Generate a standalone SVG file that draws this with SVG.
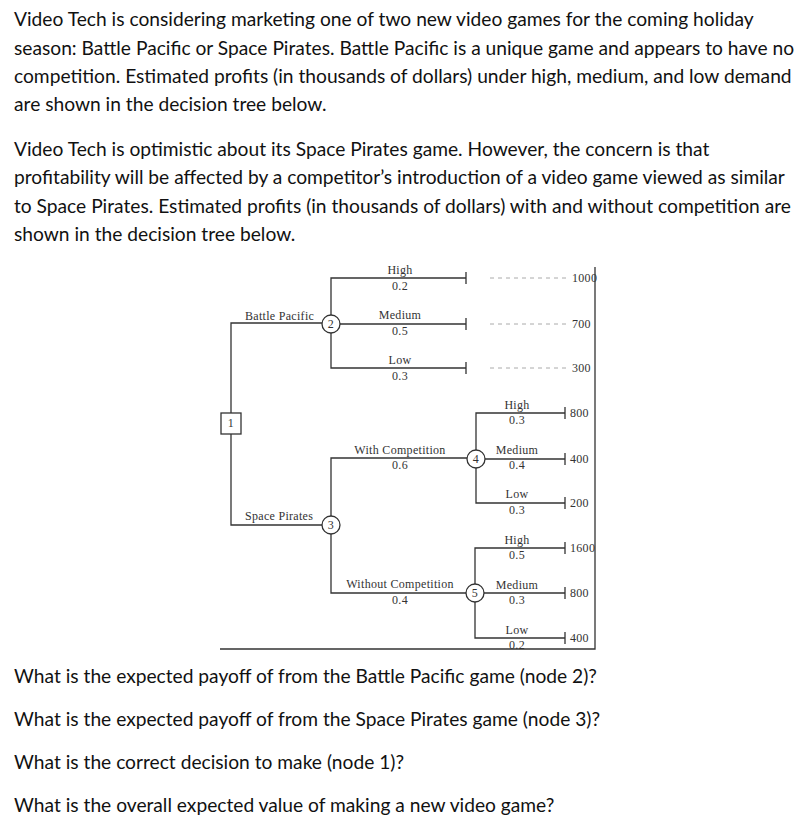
<svg xmlns="http://www.w3.org/2000/svg" width="804" height="829" viewBox="0 0 804 829">
<style>
.p{font-family:Lato,"Open Sans",sans-serif;font-size:19.2px;fill:#111}
.t{font-family:"Liberation Serif","Times New Roman",serif;font-size:12px;letter-spacing:0.3px;fill:#333}
.m{text-anchor:middle}
.ln{stroke:#333;stroke-width:1.3;fill:none}
.ds{stroke:#aaa;stroke-width:1;stroke-dasharray:4,4;fill:none}
.nd{stroke:#333;stroke-width:1.3;fill:#fff}
</style>
<rect width="804" height="829" fill="#fff"/>
<g id="text">
<text class="p" x="14" y="26">Video Tech is considering marketing one of two new video games for the coming holiday</text>
<text class="p" x="14" y="55">season: Battle Pacific or Space Pirates. Battle Pacific is a unique game and appears to have no</text>
<text class="p" x="14" y="83">competition. Estimated profits (in thousands of dollars) under high, medium, and low demand</text>
<text class="p" x="14" y="111">are shown in the decision tree below.</text>
<text class="p" x="14" y="156">Video Tech is optimistic about its Space Pirates game. However, the concern is that</text>
<text class="p" x="14" y="184">profitability will be affected by a competitor’s introduction of a video game viewed as similar</text>
<text class="p" x="14" y="213">to Space Pirates. Estimated profits (in thousands of dollars) with and without competition are</text>
<text class="p" x="14" y="241">shown in the decision tree below.</text>
<text class="p" x="14" y="683">What is the expected payoff of from the Battle Pacific game (node 2)?</text>
<text class="p" x="14" y="726">What is the expected payoff of from the Space Pirates game (node 3)?</text>
<text class="p" x="14" y="769">What is the correct decision to make (node 1)?</text>
<text class="p" x="14" y="812">What is the overall expected value of making a new video game?</text>
</g>
<g id="connectors">
<path class="ln" d="M231,413 V323 H322 M231,434 V525 H322"/>
<path class="ln" d="M331,315 V278 H466 M340,324 H466 M331,333 V368 H466"/>
<path class="ln" d="M466,272 V284 M466,318 V330 M466,362 V374"/>
<path class="ds" d="M490,278 H566 M490,324 H566 M490,368 H566"/>
<path class="ln" d="M331,516 V458 H467 M331,534 V593 H466"/>
<path class="ln" d="M476,450 V413 H565 M485,459 H565 M476,468 V503 H565"/>
<path class="ln" d="M475,584 V548 H565 M484,593 H565 M475,602 V638 H565"/>
<path class="ln" d="M565,407 V419 M565,453 V465 M565,497 V509 M565,542 V554 M565,587 V599 M565,632 V644"/>
<path class="ln" d="M220,649 H595 V267"/>
</g>
<g id="n1"><rect class="nd" x="221" y="413" width="20" height="21"/><text class="t m" x="231" y="427">1</text></g>
<g id="n2"><circle class="nd" cx="331" cy="324" r="9"/><text class="t m" x="331" y="328">2</text></g>
<g id="n3"><circle class="nd" cx="331" cy="525" r="9"/><text class="t m" x="331" y="529">3</text></g>
<g id="n4"><circle class="nd" cx="476" cy="459" r="9"/><text class="t m" x="476" y="463">4</text></g>
<g id="n5"><circle class="nd" cx="475" cy="593" r="9"/><text class="t m" x="475" y="597">5</text></g>
<g id="labels">
<text class="t" x="245" y="320">Battle Pacific</text>
<text class="t" x="245" y="520">Space Pirates</text>
<text class="t m" x="400" y="274">High</text><text class="t m" x="400" y="290">0.2</text>
<text class="t m" x="400" y="319">Medium</text><text class="t m" x="400" y="335">0.5</text>
<text class="t m" x="400" y="364">Low</text><text class="t m" x="400" y="380">0.3</text>
<text class="t" x="572" y="282">1000</text>
<text class="t" x="572" y="328">700</text>
<text class="t" x="572" y="372">300</text>
<text class="t m" x="400" y="454">With Competition</text><text class="t m" x="400" y="469">0.6</text>
<text class="t m" x="400" y="588">Without Competition</text><text class="t m" x="400" y="604">0.4</text>
<text class="t m" x="517" y="409">High</text><text class="t m" x="517" y="424">0.3</text>
<text class="t m" x="517" y="454">Medium</text><text class="t m" x="517" y="469">0.4</text>
<text class="t m" x="517" y="498">Low</text><text class="t m" x="517" y="514">0.3</text>
<text class="t m" x="517" y="544">High</text><text class="t m" x="517" y="559">0.5</text>
<text class="t m" x="517" y="589">Medium</text><text class="t m" x="517" y="604">0.3</text>
<text class="t m" x="517" y="634">Low</text><text class="t m" x="517" y="649">0.2</text>
<text class="t" x="570" y="417">800</text>
<text class="t" x="570" y="463">400</text>
<text class="t" x="570" y="507">200</text>
<text class="t" x="570" y="552">1600</text>
<text class="t" x="570" y="597">800</text>
<text class="t" x="570" y="642">400</text>
</g>
</svg>
